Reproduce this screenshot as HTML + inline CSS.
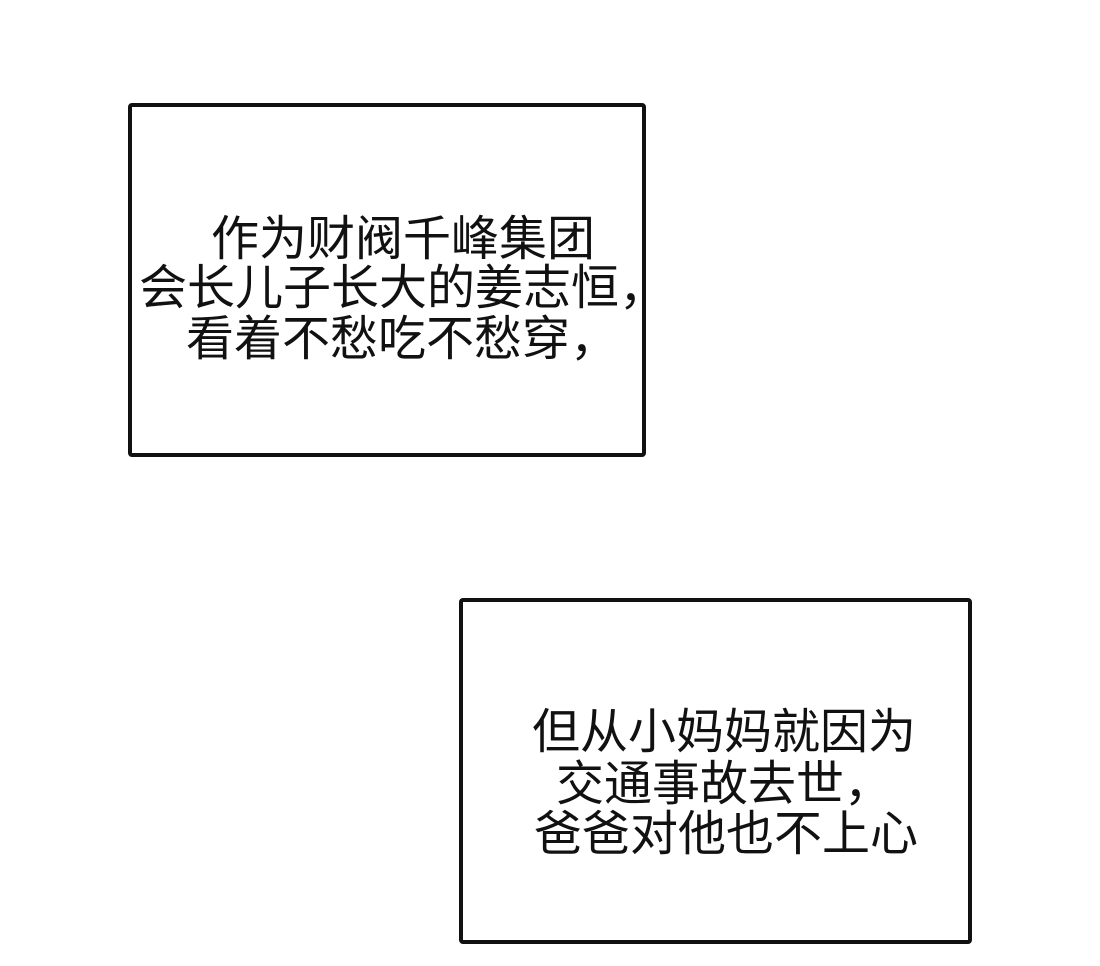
<!DOCTYPE html>
<html><head><meta charset="utf-8"><style>
html,body{margin:0;padding:0;background:#fff;}
body{width:1100px;height:966px;position:relative;overflow:hidden;font-family:"Liberation Sans","Noto Sans CJK SC",sans-serif;}
.box{position:absolute;border:4px solid #111;border-radius:4px;box-sizing:border-box;}
.t{position:absolute;font-size:48px;line-height:50px;color:#111;white-space:nowrap;}
</style></head><body>
<div class="box" style="left:128px;top:103px;width:518px;height:354px;"></div>
<div class="t" style="left:211px;top:215px;">作为财阀千峰集团</div>
<div class="t" style="left:139px;top:264px;">会长儿子长大的姜志恒，</div>
<div class="t" style="left:186px;top:315px;">看着不愁吃不愁穿，</div>
<div class="box" style="left:459px;top:598px;width:513px;height:346px;"></div>
<div class="t" style="left:532px;top:708px;">但从小妈妈就因为</div>
<div class="t" style="left:556px;top:760px;">交通事故去世，</div>
<div class="t" style="left:534px;top:810px;">爸爸对他也不上心</div>
</body></html>
